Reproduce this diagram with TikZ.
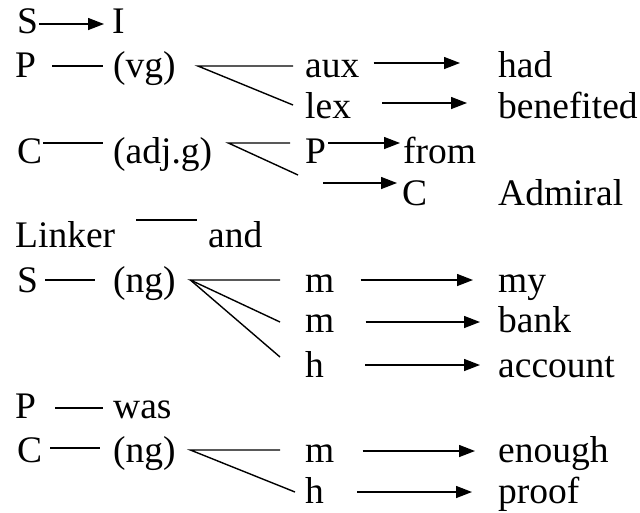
\documentclass[tikz,border=0pt]{standalone}
\usepackage{fontspec}
\setmainfont{Liberation Serif}
\usetikzlibrary{arrows.meta}
\begin{document}
\begin{tikzpicture}[x=1pt,y=1pt,
  txt/.style={anchor=base west, inner sep=0pt, font=\fontsize{37.5}{40}\selectfont},
  link/.style={line width=1.4pt},
  arr/.style={line width=1.4pt, -{Triangle[length=16pt,width=12pt]}}]
\useasboundingbox (0,0) rectangle (640,-512);

% words, one row after another
\node[txt] (S1) at (17,-33) {S};
\node[txt] (I) at (112,-33) {I};
\node[txt] (P2) at (15,-77) {P};
\node[txt] (vg) at (113,-77) {(vg)};
\node[txt] (aux) at (305,-77) {aux};
\node[txt] (had) at (498,-77) {had};
\node[txt] (lex) at (305,-118) {lex};
\node[txt] (benefited) at (498,-118) {benefited};
\node[txt] (C4) at (17,-163) {C};
\node[txt] (adjg) at (113,-163) {(adj.g)};
\node[txt] (P4) at (305,-163) {P};
\node[txt] (from) at (403,-163) {from};
\node[txt] (C5) at (402,-205) {C};
\node[txt] (admiral) at (498,-205) {Admiral};
\node[txt] (linker) at (15,-247) {Linker};
\node[txt] (and) at (208,-247) {and};
\node[txt] (S7) at (17,-292) {S};
\node[txt] (ngA) at (113,-292) {(ng)};
\node[txt] (m7) at (305,-292) {m};
\node[txt] (my) at (498,-292) {my};
\node[txt] (m8) at (305,-332) {m};
\node[txt] (bank) at (498,-332) {bank};
\node[txt] (h9) at (305,-377) {h};
\node[txt] (account) at (498,-377) {account};
\node[txt] (P10) at (15,-418) {P};
\node[txt] (was) at (113,-418) {was};
\node[txt] (C11) at (17,-462) {C};
\node[txt] (ngB) at (113,-462) {(ng)};
\node[txt] (m11) at (305,-462) {m};
\node[txt] (enough) at (498,-462) {enough};
\node[txt] (h12) at (305,-503) {h};
\node[txt] (proof) at (498,-503) {proof};

% free ends of the (adj.g) branch towards C
\coordinate (adjlow) at (298,-175);
\coordinate (ctail) at (323,-183);

% S -> I
\draw[arr] ([xshift=1pt,yshift=9pt]S1.base east) -- ([xshift=-8pt,yshift=9pt]I.base west);

% P -- (vg) and its branches
\draw[link] ([xshift=16pt,yshift=11pt]P2.base east) -- ([xshift=-10pt,yshift=11pt]vg.base west);
\draw[link] ([xshift=-12pt,yshift=11pt]aux.base west) -- ([xshift=22pt,yshift=11pt]vg.base east)
            -- ([xshift=-12pt,yshift=13pt]lex.base west);
\draw[arr] ([xshift=14pt,yshift=14pt]aux.base east) -- ([xshift=-38pt,yshift=14pt]had.base west);
\draw[arr] ([xshift=31pt,yshift=15pt]lex.base east) -- ([xshift=-31pt,yshift=15pt]benefited.base west);

% C -- (adj.g) and its branches
\draw[link] ([xshift=1pt,yshift=20pt]C4.base east) -- ([xshift=-10pt,yshift=20pt]adjg.base west);
\draw[link] ([xshift=-15pt,yshift=20pt]P4.base west) -- ([xshift=16pt,yshift=20pt]adjg.base east) -- (adjlow);
\draw[arr] ([xshift=2pt,yshift=20pt]P4.base east) -- ([xshift=-3pt,yshift=20pt]from.base west);
\draw[arr] (ctail) -- ([xshift=-5pt,yshift=22pt]C5.base west);

% Linker -- and
\draw[link] ([xshift=21pt,yshift=27pt]linker.base east) -- ([xshift=-11pt,yshift=27pt]and.base west);

% S -- (ng) and its branches
\draw[link] ([xshift=7pt,yshift=12pt]S7.base east) -- ([xshift=-18pt,yshift=12pt]ngA.base west);
\draw[link] ([xshift=-25pt,yshift=12pt]m7.base west) -- ([xshift=14.5pt,yshift=12pt]ngA.base east)
            -- ([xshift=-25pt,yshift=10pt]m8.base west);
\draw[link] ([xshift=14.5pt,yshift=12pt]ngA.base east) -- ([xshift=-25pt,yshift=20pt]h9.base west);
\draw[arr] ([xshift=26pt,yshift=12pt]m7.base east) -- ([xshift=-25pt,yshift=12pt]my.base west);
\draw[arr] ([xshift=31pt,yshift=10pt]m8.base east) -- ([xshift=-18pt,yshift=10pt]bank.base west);
\draw[arr] ([xshift=41pt,yshift=12pt]h9.base east) -- ([xshift=-18pt,yshift=12pt]account.base west);

% P -- was
\draw[link] ([xshift=19pt,yshift=10pt]P10.base east) -- ([xshift=-10pt,yshift=10pt]was.base west);

% C -- (ng) and its branches
\draw[link] ([xshift=8pt,yshift=14pt]C11.base east) -- ([xshift=-13pt,yshift=14pt]ngB.base west);
\draw[link] ([xshift=-25pt,yshift=12pt]m11.base west) -- ([xshift=14.5pt,yshift=12pt]ngB.base east)
            -- ([xshift=-10pt,yshift=11pt]h12.base west);
\draw[arr] ([xshift=28pt,yshift=11pt]m11.base east) -- ([xshift=-23pt,yshift=11pt]enough.base west);
\draw[arr] ([xshift=33pt,yshift=11pt]h12.base east) -- ([xshift=-26pt,yshift=11pt]proof.base west);
\end{tikzpicture}
\end{document}
